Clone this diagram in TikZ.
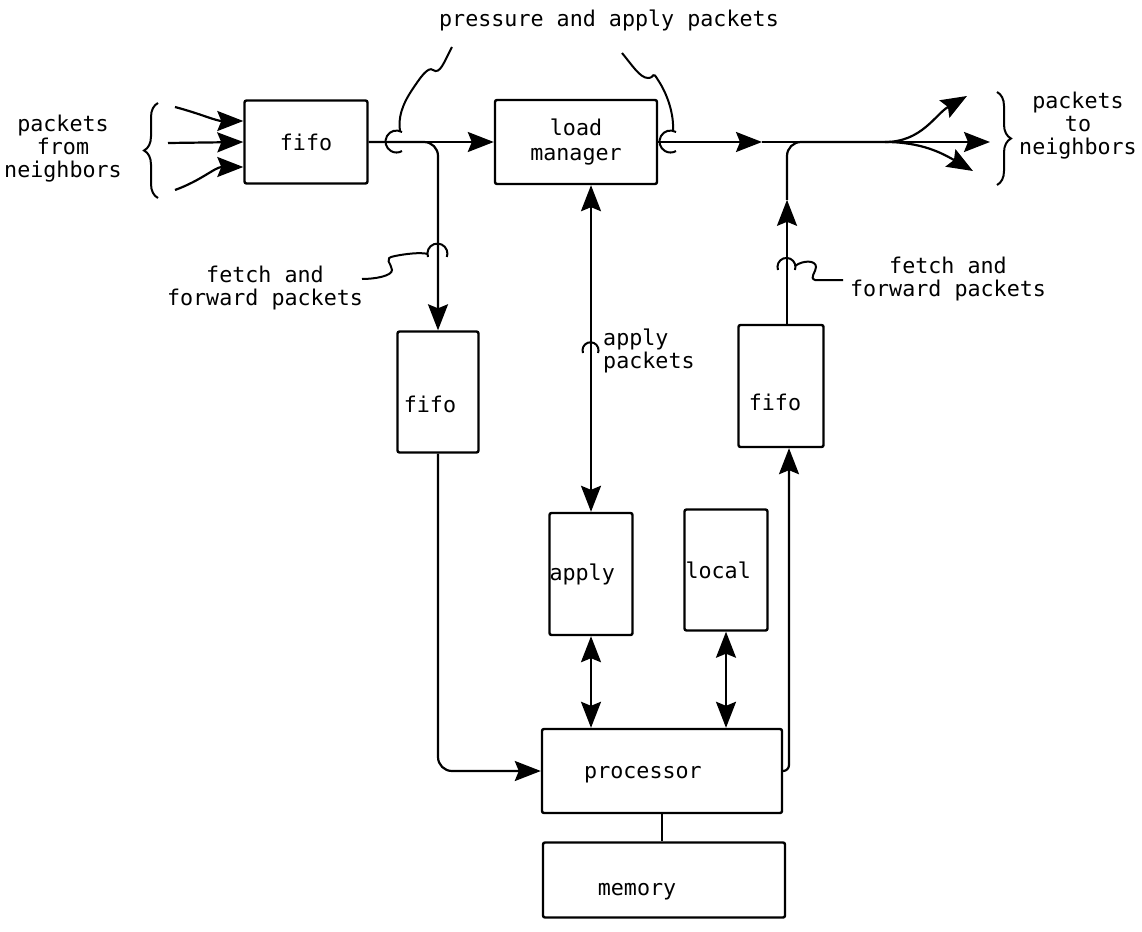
\documentclass[tikz,border=0pt]{standalone}
\usepackage{fontspec}
\setmonofont{DejaVu Sans Mono}
\usetikzlibrary{arrows.meta, positioning, calc, decorations.pathreplacing}
\tikzset{
  unitbox/.style={draw, line width=2.4pt, rounded corners=2pt, inner sep=3pt},
  flow/.style={line width=2.2pt},
  arr/.style={flow, -{Stealth[length=26pt, width=20pt, inset=4pt]}},
  dblarr/.style={flow, {Stealth[length=26pt, width=20pt, inset=4pt]}-{Stealth[length=26pt, width=20pt, inset=4pt]}},
  note/.style={line width=2pt},
  lbl/.style={align=center, inner sep=0pt},
}

\begin{document}
\begin{tikzpicture}[x=1pt, y=1pt, every node/.style={font=\ttfamily\fontsize{21.7}{23}\selectfont}]
  \useasboundingbox (0,0) rectangle (1142,-931);

  \node[unitbox, minimum width=123pt, minimum height=83pt] (fifoin) at (306,-142) {fifo};
  \node[unitbox, minimum width=162pt, minimum height=84pt, align=center] (loadmgr) at (576,-142) {load\\[2pt]manager};
  \node[unitbox, minimum width=81pt, minimum height=121pt,
    label={[anchor=west, xshift=4pt, yshift=-12pt]west:fifo}] (fifofetch) at (438,-392) {};
  \node[unitbox, minimum width=85pt, minimum height=122pt,
    label={[anchor=west, xshift=8pt, yshift=-16pt]west:fifo}] (fifoout) at (781,-386) {};
  \node[unitbox, minimum width=83pt, minimum height=122pt,
    label={[anchor=west, inner sep=1pt]west:apply}] (apply) at (591,-574) {};
  \node[unitbox, minimum width=83pt, minimum height=121pt,
    label={[anchor=west, inner sep=2pt]west:local}] (local) at (726,-570) {};
  \node[unitbox, minimum width=240pt, minimum height=84pt,
    label={[xshift=-19pt, yshift=-4pt]center:processor}] (processor) at (662,-771) {};
  \node[unitbox, minimum width=242pt, minimum height=75pt,
    label={[xshift=-27pt, yshift=-12pt]center:memory}] (memory) at (664,-880) {};

  \node[lbl] (srcnote) at (63,-149) {packets\\from\\neighbors};
  \node[lbl] (dstnote) at (1078,-126) {packets\\to\\neighbors};
  \node[lbl] (bundlenote) at (609,-20) {pressure and apply packets};
  \node[lbl] (fetchnoteL) at (265,-288) {fetch and\\forward packets};
  \node[lbl] (fetchnoteR) at (948,-279) {fetch and\\forward packets};
  \node[lbl, align=left, anchor=west] (applynote) at (603,-351) {apply\\packets};

  \coordinate (in1) at (175,-107);
  \coordinate (in2) at (168,-143);
  \coordinate (in3) at (175,-190);
  \coordinate (midR) at (762,-142);
  \coordinate (split) at (885,-142);
  \coordinate (out1) at (967,-96);
  \coordinate (out2) at (990,-142);
  \coordinate (out3) at (973,-171);
  \coordinate (outlow) at ([xshift=8pt]fifoout.south);
  \coordinate (outhigh) at ([xshift=6pt]fifoout.north);
  \coordinate (upmid) at ([yshift=124pt]outhigh);

  % incoming packets
  \draw[arr] (in1) to[out=-15, in=180] ([yshift=21pt]fifoin.west);
  \draw[arr] (in2) -- (fifoin.west);
  \draw[arr] (in3) to[out=20, in=180] ([yshift=-25pt]fifoin.west);
  \draw[note, decorate, decoration={brace, amplitude=14pt}] (158,-198) -- (158,-103);

  \draw[arr] (fifoin.east) -- (loadmgr.west);
  \draw[arr] (loadmgr.east) -- (midR);
  \draw[flow] (midR) -- (split);
  \draw[arr] (split) to[out=0, in=210] (out1);
  \draw[arr] (split) -- (out2);
  \draw[arr] (split) to[out=0, in=150] (out3);
  \draw[note, decorate, decoration={brace, amplitude=14pt}] (997,-92) -- (997,-185);

  \draw[arr, rounded corners=14pt] (fifoin.east) -| (fifofetch.north);
  \draw[arr, rounded corners=14pt] (fifofetch.south) |- (processor.west);
  \draw[arr, rounded corners=6pt] (processor.east) -| (outlow);
  \draw[arr] (outhigh) -- (upmid);
  \draw[flow, rounded corners=14pt] (upmid) |- (split);

  \draw[dblarr] (loadmgr.south -| apply.north) -- (apply.north);
  \draw[dblarr] (apply.south) -- (apply.south |- processor.north);
  \draw[dblarr] (local.south) -- (local.south |- processor.north);
  \draw[flow] (processor.south) -- (processor.south |- memory.north);

  % bundle marks
  \draw[note] (402,-132) arc[start angle=60, end angle=300, radius=11];
  \draw[note] (676,-132) arc[start angle=60, end angle=300, radius=11];
  \draw[note] (452,-47) .. controls (444,-62) and (440,-75) .. (433,-70)
    .. controls (428,-66) and (420,-78) .. (412,-90)
    .. controls (402,-105) and (398,-118) .. (400,-131);
  \draw[note] (622,-53) .. controls (632,-65) and (640,-78) .. (648,-78)
    .. controls (655,-78) and (652,-70) .. (658,-80)
    .. controls (668,-95) and (674,-115) .. (673,-131);
  \draw[note] (428,-257) arc[start angle=200, end angle=-20, radius=10];
  \draw[note] (362,-279) .. controls (375,-279) and (392,-276) .. (392,-270)
    .. controls (392,-264) and (382,-258) .. (395,-256)
    .. controls (405,-254) and (420,-252) .. (428,-254);
  \draw[note] (778,-270) arc[start angle=200, end angle=-20, radius=9];
  \draw[note] (795,-266) .. controls (803,-260) and (816,-260) .. (816,-267)
    .. controls (816,-272) and (809,-278) .. (815,-280) -- (843,-280);
  \draw[note] (583,-353) arc[start angle=200, end angle=-20, radius=8];
\end{tikzpicture}
\end{document}
